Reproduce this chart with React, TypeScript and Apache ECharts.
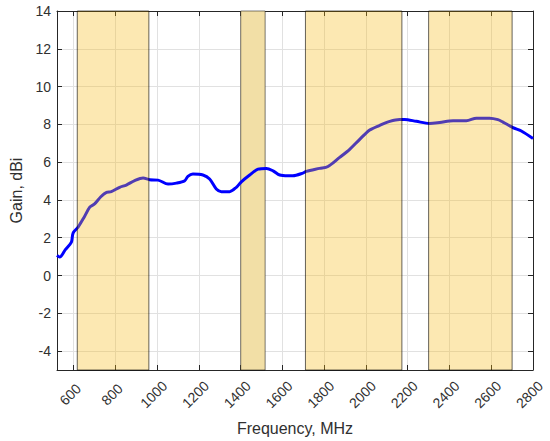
import React, { useEffect, useRef } from "react";
import * as echarts from "echarts";

const freq = [520, 533, 560, 589, 597, 621, 650, 677, 700, 730, 757, 780, 820, 852, 892, 932, 964, 1004, 1052, 1092, 1132, 1147, 1171, 1219, 1251, 1283, 1307, 1347, 1379, 1403, 1443, 1483, 1523, 1555, 1587, 1626, 1650, 1698, 1714, 1778, 1818, 1874, 1922, 1970, 2018, 2066, 2114, 2162, 2185, 2241, 2305, 2353, 2417, 2481, 2529, 2592, 2632, 2656, 2704, 2744, 2800];
const gain = [1.07, 0.98, 1.37, 1.77, 2.25, 2.56, 3.09, 3.62, 3.79, 4.17, 4.4, 4.44, 4.67, 4.79, 5.02, 5.16, 5.07, 5.05, 4.84, 4.89, 5.02, 5.25, 5.37, 5.32, 5.11, 4.58, 4.44, 4.44, 4.67, 4.96, 5.32, 5.63, 5.67, 5.54, 5.32, 5.28, 5.28, 5.42, 5.51, 5.67, 5.77, 6.25, 6.68, 7.21, 7.7, 7.95, 8.16, 8.26, 8.26, 8.16, 8.05, 8.1, 8.19, 8.19, 8.33, 8.33, 8.25, 8.12, 7.83, 7.65, 7.25];

const overBandStart = [617, 1710, 2300];
const overBandEnd = [960, 2172, 2700];
const underBandStart = [1400];
const underBandEnd = [1517];

const X_MIN = 520;
const X_MAX = 2800;
const Y_MIN = -5;
const Y_MAX = 14;
const X_STEP = 200;
const Y_STEP = 2;

const AXIS_COLOR = "#262626";
const TEXT_COLOR = "#303030";
const GRID_COLOR = "#e1e1e1";
const FONT = "Liberation Sans, Arial, Helvetica, sans-serif";

export default function App() {
  const ref = useRef<HTMLDivElement>(null);
  useEffect(() => {
    if (!ref.current) return;
    const chart = echarts.init(ref.current, undefined, { renderer: "svg" });
    const points = freq.map((f, i) => [f, gain[i]]);
    const commonX = {
      type: "value",
      min: X_MIN,
      max: X_MAX,
      minInterval: X_STEP,
      maxInterval: X_STEP,
      axisLine: { show: true, onZero: false, lineStyle: { color: AXIS_COLOR, width: 1 } },
      axisTick: { show: true, inside: true, length: 5, lineStyle: { color: AXIS_COLOR } },
    };
    const commonY = {
      type: "value",
      min: Y_MIN,
      max: Y_MAX,
      minInterval: Y_STEP,
      maxInterval: Y_STEP,
      axisLine: { show: true, onZero: false, lineStyle: { color: AXIS_COLOR, width: 1 } },
      axisTick: { show: true, inside: true, length: 5, lineStyle: { color: AXIS_COLOR } },
    };
    chart.setOption({
      animation: false,
      backgroundColor: "#ffffff",
      textStyle: { fontFamily: FONT },
      grid: { left: 57, right: 17, top: 11, bottom: 69 },
      xAxis: [
        {
          ...commonX,
          position: "bottom",
          name: "Frequency, MHz",
          nameLocation: "middle",
          nameGap: 50,
          nameTextStyle: { color: TEXT_COLOR, fontSize: 16, fontFamily: FONT },
          splitLine: { show: true, lineStyle: { color: GRID_COLOR, width: 1 } },
          axisLabel: {
            show: true,
            rotate: 45,
            align: "center",
            verticalAlign: "middle",
            margin: 21,
            padding: [0, 10, 0, 0],
            color: TEXT_COLOR,
            fontSize: 14,
            fontFamily: FONT,
            showMinLabel: false,
            formatter: (v: number) => String(v),
          },
        },
        {
          ...commonX,
          position: "top",
          splitLine: { show: false },
          axisLabel: { show: false },
        },
      ],
      yAxis: [
        {
          ...commonY,
          position: "left",
          name: "Gain, dBi",
          nameLocation: "middle",
          nameGap: 26,
          nameTextStyle: { color: TEXT_COLOR, fontSize: 16, fontFamily: FONT },
          splitLine: { show: true, lineStyle: { color: GRID_COLOR, width: 1 } },
          axisLabel: {
            show: true,
            margin: 6,
            color: TEXT_COLOR,
            fontSize: 14,
            fontFamily: FONT,
            showMinLabel: false,
            formatter: (v: number) => String(v),
          },
        },
        {
          ...commonY,
          position: "right",
          splitLine: { show: false },
          axisLabel: { show: false },
        },
      ],
      series: [
        {
          type: "line",
          name: "under",
          data: points,
          symbol: "none",
          silent: true,
          z: 1,
          lineStyle: { opacity: 0 },
          markArea: {
            silent: true,
            z: 1,
            itemStyle: { color: "#f2dfa6", borderColor: "rgba(0,0,0,0.5)", borderWidth: 1 },
            data: underBandStart.map((s, i) => [{ xAxis: s }, { xAxis: underBandEnd[i] }]),
          },
        },
        {
          type: "line",
          name: "Gain",
          data: points,
          symbol: "none",
          smooth: 0.3,
          z: 3,
          lineStyle: { color: "#0000ff", width: 3 },
        },
        {
          type: "line",
          name: "over",
          data: points,
          symbol: "none",
          silent: true,
          z: 10,
          lineStyle: { opacity: 0 },
          markArea: {
            silent: true,
            z: 10,
            itemStyle: { color: "rgba(245,185,20,0.33)", borderColor: "rgba(0,0,0,0.6)", borderWidth: 1 },
            data: overBandStart.map((s, i) => [{ xAxis: s }, { xAxis: overBandEnd[i] }]),
          },
        },
      ],
    });
    return () => chart.dispose();
  }, []);
  return (
    <div
      ref={ref}
      style={{ position: "fixed", left: 0, top: 0, width: 550, height: 441, background: "#fff" }}
    />
  );
}
